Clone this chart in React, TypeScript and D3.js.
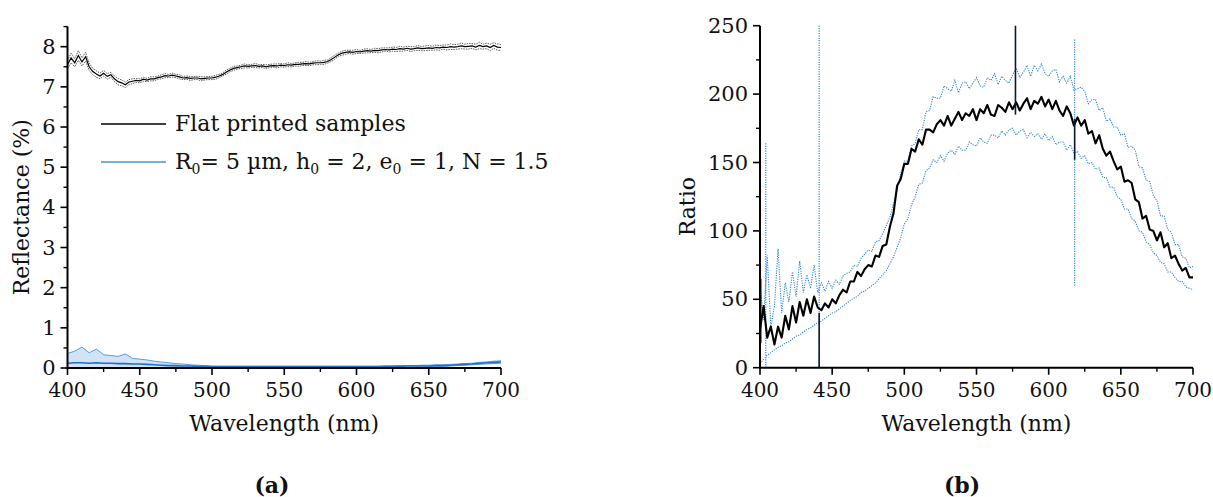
import React from 'react';
import * as d3 from 'd3';

// wavelength grids (nm)
const wl = d3.range(0, 121).map((i) => 400 + i * 2.5);
const wlModel = d3.range(0, 61).map((i) => 400 + i * 5);

// (a) flat printed samples, reflectance %
const reflFlat = [
  7.55, 7.72, 7.6, 7.78, 7.62, 7.75, 7.5, 7.38, 7.32, 7.27,
  7.34, 7.26, 7.3, 7.2, 7.13, 7.1, 7.05, 7.12, 7.14, 7.16,
  7.15, 7.19, 7.17, 7.2, 7.2, 7.23, 7.25, 7.28, 7.27, 7.29,
  7.27, 7.25, 7.22, 7.23, 7.21, 7.22, 7.22, 7.2, 7.21, 7.22,
  7.22, 7.24, 7.27, 7.31, 7.37, 7.42, 7.46, 7.48, 7.5, 7.52,
  7.51, 7.52, 7.53, 7.51, 7.52, 7.5, 7.52, 7.53, 7.52, 7.54,
  7.53, 7.55, 7.54, 7.56, 7.56, 7.57, 7.58, 7.57, 7.59, 7.6,
  7.6, 7.61, 7.63, 7.68, 7.74, 7.8, 7.84, 7.86, 7.87, 7.86,
  7.88, 7.87, 7.89, 7.9, 7.89, 7.91, 7.9, 7.92, 7.93, 7.92,
  7.94, 7.93, 7.95, 7.94, 7.96, 7.94, 7.95, 7.97, 7.95, 7.96,
  7.97, 7.96, 7.98, 7.97, 7.99, 7.98, 8.0, 7.99, 8.0, 8.02,
  8.0, 8.01, 8.02, 7.99, 8.03, 8.0, 8.02, 7.98, 8.03, 7.99,
  7.98,
];
const reflFlatErr = [
  0.1, 0.12, 0.1, 0.12, 0.1, 0.11, 0.09, 0.08, 0.08, 0.07,
  0.07, 0.07, 0.06, 0.07, 0.08, 0.07, 0.07, 0.06, 0.06, 0.05,
  0.05, 0.05, 0.04, 0.05, 0.05, 0.04, 0.05, 0.05, 0.04, 0.05,
  0.04, 0.05, 0.04, 0.04, 0.05, 0.04, 0.04, 0.05, 0.04, 0.04,
  0.04, 0.05, 0.04, 0.04, 0.05, 0.04, 0.05, 0.04, 0.04, 0.05,
  0.04, 0.04, 0.05, 0.04, 0.04, 0.05, 0.04, 0.04, 0.05, 0.04,
  0.04, 0.05, 0.04, 0.04, 0.05, 0.04, 0.05, 0.04, 0.04, 0.05,
  0.04, 0.05, 0.04, 0.05, 0.05, 0.04, 0.05, 0.05, 0.04, 0.05,
  0.05, 0.04, 0.05, 0.05, 0.04, 0.05, 0.05, 0.05, 0.04, 0.05,
  0.05, 0.05, 0.06, 0.05, 0.05, 0.06, 0.05, 0.06, 0.05, 0.06,
  0.06, 0.05, 0.06, 0.06, 0.05, 0.06, 0.07, 0.06, 0.06, 0.07,
  0.06, 0.07, 0.06, 0.07, 0.08, 0.06, 0.07, 0.08, 0.07, 0.08,
  0.07,
];

// (a) model R0 = 5 um ... (5 nm grid)
const modelMean = [
  0.12, 0.13, 0.13, 0.12, 0.13, 0.12, 0.12, 0.11, 0.11, 0.1,
  0.1, 0.09, 0.08, 0.07, 0.06, 0.06, 0.05, 0.05, 0.04, 0.04,
  0.03, 0.03, 0.03, 0.03, 0.03, 0.03, 0.03, 0.03, 0.03, 0.03,
  0.03, 0.03, 0.03, 0.03, 0.03, 0.03, 0.03, 0.03, 0.03, 0.03,
  0.03, 0.03, 0.03, 0.03, 0.04, 0.04, 0.04, 0.05, 0.05, 0.05,
  0.05, 0.06, 0.06, 0.07, 0.08, 0.09, 0.1, 0.12, 0.13, 0.14,
  0.15,
];
const modelHi = [
  0.36, 0.42, 0.52, 0.38, 0.47, 0.33, 0.31, 0.29, 0.35, 0.24,
  0.22, 0.2, 0.17, 0.15, 0.13, 0.11, 0.1, 0.08, 0.07, 0.06,
  0.05, 0.05, 0.05, 0.05, 0.05, 0.05, 0.05, 0.05, 0.05, 0.05,
  0.05, 0.05, 0.05, 0.05, 0.05, 0.05, 0.05, 0.05, 0.05, 0.05,
  0.05, 0.05, 0.05, 0.05, 0.05, 0.05, 0.06, 0.06, 0.06, 0.07,
  0.07, 0.08, 0.08, 0.09, 0.1, 0.11, 0.12, 0.14, 0.15, 0.17,
  0.18,
];
const modelLo = [
  0.0, 0.01, 0.0, 0.01, 0.0, 0.01, 0.0, 0.01, 0.01, 0.01,
  0.01, 0.01, 0.01, 0.01, 0.01, 0.02, 0.02, 0.02, 0.02, 0.02,
  0.02, 0.02, 0.02, 0.02, 0.02, 0.02, 0.02, 0.02, 0.02, 0.02,
  0.02, 0.02, 0.02, 0.02, 0.02, 0.02, 0.02, 0.02, 0.02, 0.02,
  0.02, 0.02, 0.02, 0.02, 0.02, 0.02, 0.02, 0.02, 0.02, 0.02,
  0.03, 0.03, 0.04, 0.05, 0.06, 0.07, 0.08, 0.09, 0.1, 0.11,
  0.12,
];

// (b) ratio, mean and the two dotted envelopes
const ratioMean = [
  28, 45, 22, 30, 17, 30, 22, 38, 28, 45,
  33, 48, 38, 50, 40, 52, 44, 42, 47, 44,
  50, 47, 53, 57, 55, 63, 63, 70, 67, 72,
  75, 74, 82, 81, 89, 90, 103, 113, 133, 138,
  149, 149, 160, 158, 167, 163, 174, 174, 172, 178,
  181, 177, 184, 177, 182, 187, 181, 186, 184, 189,
  181, 189, 186, 192, 185, 184, 192, 190, 187, 194,
  189, 194, 188, 193, 197, 189, 195, 193, 198, 191,
  196, 189, 195, 188, 184, 191, 186, 177, 183, 177,
  181, 171, 173, 164, 170, 160, 155, 158, 151, 145,
  147, 136, 137, 135, 123, 121, 109, 111, 101, 100,
  93, 99, 88, 91, 80, 82, 76, 71, 73, 66,
  66,
];
const ratioHi = [
  60, 35, 82, 30, 45, 87, 40, 62, 48, 70,
  52, 78, 55, 68, 58, 75, 55, 62, 56, 63,
  58, 64, 61, 67, 69, 70, 75, 74, 80, 83,
  86, 85, 92, 93, 98, 104, 110, 120, 130, 142,
  151, 151, 162, 164, 174, 174, 187, 188, 198, 197,
  197, 206, 204, 202, 210, 201, 208, 209, 204, 208,
  212, 206, 205, 212, 210, 215, 207, 213, 210, 208,
  214, 219, 212, 216, 221, 213, 221, 217, 222, 215,
  213, 217, 218, 209, 213, 208, 213, 203, 204, 205,
  202, 193, 196, 196, 188, 190, 180, 182, 176, 176,
  170, 171, 161, 162, 159, 147, 146, 137, 136, 126,
  122, 111, 111, 101, 99, 90, 90, 81, 80, 73,
  74,
];
const ratioLo = [
  3, 6, 9, 11, 13, 15, 16, 18, 19, 21,
  23, 24, 26, 28, 29, 31, 33, 34, 36, 38,
  40, 41, 43, 45, 47, 49, 51, 52, 55, 56,
  58, 60, 62, 65, 68, 71, 76, 81, 88, 95,
  105, 109, 119, 125, 134, 135, 144, 146, 152, 150,
  155, 151, 157, 159, 156, 162, 159, 159, 165, 163,
  162, 168, 165, 164, 170, 170, 168, 173, 170, 174,
  175, 170, 173, 174, 168, 172, 169, 171, 167, 171,
  166, 169, 163, 165, 165, 159, 163, 157, 158, 153,
  155, 149, 150, 145, 146, 139, 139, 132, 132, 125,
  123, 116, 116, 109, 107, 100, 99, 92, 90, 84,
  82, 77, 76, 70, 70, 66, 63, 63, 59, 58,
  57,
];
// isolated spikes: [wavelength, from, to]
const spikesBlue = [[404, 0, 165], [441, 0, 250], [618, 60, 240]];
const spikesBlack = [[400.5, 18, 65], [441, 0, 40], [577, 185, 250], [618, 152, 182]];

const xTicks = [400, 450, 500, 550, 600, 650, 700];
const xMinor = [425, 475, 525, 575, 625, 675];
const reflTicks = [0, 1, 2, 3, 4, 5, 6, 7, 8];
const reflMinor = [0.5, 1.5, 2.5, 3.5, 4.5, 5.5, 6.5, 7.5, 8.5];
const ratioTicks = [0, 50, 100, 150, 200, 250];
const ratioMinor = [25, 75, 125, 175, 225];

const FONT = 'DejaVu Serif';
const FS = 22;
const TICK_FS = 20;

const blueLine = '#2f86e0';

function Axes({ x, y, yTicks, yMinor, xTitle, yTitle, yTitleX }) {
  const [xa, xb] = x.range();
  const [ya, yb] = y.range();
  return (
    <g fontFamily={FONT} fontSize={FS} fill="#111">
      <line x1={xa} x2={xa} y1={ya + 1} y2={yb} stroke="#000" strokeWidth={2} />
      <line x1={xa - 1} x2={xb} y1={ya} y2={ya} stroke="#000" strokeWidth={2} />
      {yTicks.map((t) => (
        <g key={'y' + t}>
          <line x1={xa - 7} x2={xa} y1={y(t)} y2={y(t)} stroke="#000" strokeWidth={1.6} />
          <text x={xa - 12} y={y(t)} fontSize={TICK_FS + 1} textAnchor="end" dominantBaseline="central">{t}</text>
        </g>
      ))}
      {yMinor.map((t) => (
        <line key={'ym' + t} x1={xa - 4} x2={xa} y1={y(t)} y2={y(t)} stroke="#000" strokeWidth={1.4} />
      ))}
      {xTicks.map((t) => (
        <g key={'x' + t}>
          <line x1={x(t)} x2={x(t)} y1={ya} y2={ya + 7} stroke="#000" strokeWidth={1.6} />
          <text x={x(t)} y={ya + 29} fontSize={TICK_FS} textAnchor="middle">{t}</text>
        </g>
      ))}
      {xMinor.map((t) => (
        <line key={'xm' + t} x1={x(t)} x2={x(t)} y1={ya} y2={ya + 4} stroke="#000" strokeWidth={1.4} />
      ))}
      <text x={(xa + xb) / 2} y={ya + 63} textAnchor="middle">{xTitle}</text>
      <text transform={`translate(${yTitleX},${(ya + yb) / 2 + 10}) rotate(-90)`} textAnchor="middle">{yTitle}</text>
    </g>
  );
}

export default function App() {
  const xL = d3.scaleLinear().domain([400, 700]).range([67.5, 501]);
  const yL = d3.scaleLinear().domain([0, 8.5]).range([368, 26.6]);
  const xR = d3.scaleLinear().domain([400, 700]).range([760, 1193]);
  const yR = d3.scaleLinear().domain([0, 250]).range([367.7, 25.7]);

  const lineL = (vals) => d3.line().x((_, i) => xL(wl[i])).y((d) => yL(d))(vals);
  const lineM = (vals) => d3.line().x((_, i) => xL(wlModel[i])).y((d) => yL(d))(vals);
  const lineR = (vals) => d3.line().x((_, i) => xR(wl[i])).y((d) => yR(d))(vals);
  const bandM = d3.area()
    .x((_, i) => xL(wlModel[i]))
    .y0((_, i) => yL(modelLo[i]))
    .y1((d) => yL(d))(modelHi);

  return (
    <svg width={1213} height={497} style={{ position: 'absolute', left: 0, top: 0, background: '#fff' }}>
      {/* (a) */}
      <path d={bandM} fill="#c9def3" opacity={0.85} />
      <path d={lineM(modelHi)} fill="none" stroke={blueLine} strokeWidth={0.8} />
      <path d={lineM(modelLo)} fill="none" stroke={blueLine} strokeWidth={0.8} />
      <path d={lineM(modelMean)} fill="none" stroke="#1d6fc8" strokeWidth={1.6} />
      <path d={lineL(reflFlat.map((v, i) => v + reflFlatErr[i]))} fill="none" stroke="#333" strokeWidth={0.8} strokeDasharray="1.5,1" />
      <path d={lineL(reflFlat.map((v, i) => v - reflFlatErr[i]))} fill="none" stroke="#333" strokeWidth={0.8} strokeDasharray="1.5,1" />
      <path d={lineL(reflFlat)} fill="none" stroke="#000" strokeWidth={1.2} />
      <Axes x={xL} y={yL} yTicks={reflTicks} yMinor={reflMinor} xTitle="Wavelength (nm)" yTitle="Reflectance (%)" yTitleX={29} />

      <g fontFamily={FONT} fontSize={FS} fill="#111">
        <line x1={101} x2={166} y1={124} y2={124} stroke="#000" strokeWidth={1.3} />
        <text x={175} y={131}>Flat printed samples</text>
        <line x1={101} x2={166} y1={162} y2={162} stroke="#4a90d9" strokeWidth={1.6} />
        <text x={175} y={169}>
          R<tspan dy={5} fontSize={14}>0</tspan>
          <tspan dy={-5}>= 5 µm, h</tspan><tspan dy={5} fontSize={14}>0</tspan>
          <tspan dy={-5}> = 2, e</tspan><tspan dy={5} fontSize={14}>0</tspan>
          <tspan dy={-5}> = 1, N = 1.5</tspan>
        </text>
      </g>

      {/* (b) */}
      <path d={lineR(ratioHi)} fill="none" stroke={blueLine} strokeWidth={1.1} strokeDasharray="1.2,1.2" />
      <path d={lineR(ratioLo)} fill="none" stroke={blueLine} strokeWidth={1.1} strokeDasharray="1.2,1.2" />
      {spikesBlue.map(([w, a, b]) => (
        <line key={'sb' + w} x1={xR(w)} x2={xR(w)} y1={yR(a)} y2={yR(b)} stroke={blueLine} strokeWidth={1.2} strokeDasharray="1.2,1.2" />
      ))}
      <path d={lineR(ratioMean)} fill="none" stroke="#000" strokeWidth={2.1} strokeLinejoin="round" />
      {spikesBlack.map(([w, a, b]) => (
        <line key={'sk' + w} x1={xR(w)} x2={xR(w)} y1={yR(a)} y2={yR(b)} stroke="#0a1a33" strokeWidth={1.6} />
      ))}
      <Axes x={xR} y={yR} yTicks={ratioTicks} yMinor={ratioMinor} xTitle="Wavelength (nm)" yTitle="Ratio" yTitleX={695} />

      <g fontFamily={FONT} fontSize={FS} fill="#111" fontWeight="bold" textAnchor="middle">
        <text x={272} y={493}>(a)</text>
        <text x={962} y={493}>(b)</text>
      </g>
    </svg>
  );
}
